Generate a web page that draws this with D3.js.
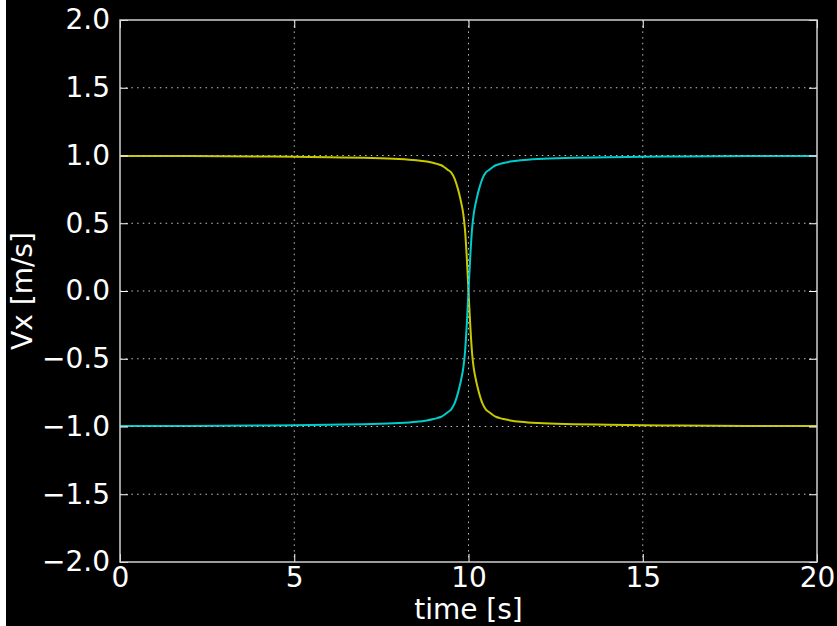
<!DOCTYPE html>
<html>
<head>
<meta charset="utf-8">
<script src="https://cdn.jsdelivr.net/npm/d3@7"></script>
<style>
  html, body { margin: 0; padding: 0; background: #000; }
  svg { display: block; }
  text { font-family: "DejaVu Sans", sans-serif; fill: #fff; }
</style>
</head>
<body>
<div id="chart"></div>
<script>
// time samples [s]
const times = [0, 2, 4, 5, 6, 7, 8, 8.5, 8.8, 9, 9.1, 9.2, 9.3, 9.4, 9.5, 9.6, 9.7, 9.75, 9.8, 9.85, 9.9, 9.95, 10,
  10.05, 10.1, 10.15, 10.2, 10.25, 10.3, 10.4, 10.5, 10.6, 10.7, 10.8, 10.9, 11, 11.2, 11.5, 12, 13, 14, 15, 16, 18, 20];

// Vx of body 1 (yellow) and body 2 (cyan)
const vxYellow = [0.997, 0.996, 0.993, 0.99, 0.987, 0.983, 0.975, 0.965, 0.955, 0.945, 0.938, 0.93, 0.915, 0.895, 0.875, 0.83, 0.75, 0.7, 0.64, 0.57, 0.45, 0.25, 0,
  -0.25, -0.45, -0.57, -0.64, -0.7, -0.75, -0.83, -0.875, -0.895, -0.915, -0.93, -0.938, -0.945, -0.955, -0.965, -0.975, -0.983, -0.987, -0.99, -0.993, -0.996, -0.997];
const vxCyan = [-0.997, -0.996, -0.993, -0.99, -0.987, -0.983, -0.975, -0.965, -0.955, -0.945, -0.938, -0.93, -0.915, -0.895, -0.875, -0.83, -0.75, -0.7, -0.64, -0.57, -0.45, -0.25, 0,
  0.25, 0.45, 0.57, 0.64, 0.7, 0.75, 0.83, 0.875, 0.895, 0.915, 0.93, 0.938, 0.945, 0.955, 0.965, 0.975, 0.983, 0.987, 0.99, 0.993, 0.996, 0.997];

const xTicks = [0, 5, 10, 15, 20];
const yTicks = [-2, -1.5, -1, -0.5, 0, 0.5, 1, 1.5, 2];

const width = 837, height = 626;
const margin = { left: 120, right: 20, top: 20, bottom: 64 };

const svg = d3.select("#chart").append("svg")
  .attr("width", width).attr("height", height);

svg.append("rect").attr("width", width).attr("height", height).attr("fill", "#000");
// thin white strip on the left edge of the screenshot
svg.append("rect").attr("x", 0).attr("y", 0).attr("width", 6).attr("height", height).attr("fill", "#fff");

const x = d3.scaleLinear().domain([0, 20]).range([margin.left, width - margin.right]);
const y = d3.scaleLinear().domain([-2, 2]).range([height - margin.bottom, margin.top]);

const line = d3.line().curve(d3.curveMonotoneX);

const series = [
  { values: vxYellow, color: "#c8c800" },
  { values: vxCyan, color: "#00cccc" }
];

const plot = svg.append("g");
series.forEach((s) => {
  plot.append("path")
    .attr("fill", "none")
    .attr("stroke", s.color)
    .attr("stroke-width", 2)
    .attr("d", line(times.map((t, i) => [x(t), y(s.values[i])])));
});

// dotted grid drawn over the curves
const grid = svg.append("g")
  .attr("stroke", "#c0c0c0")
  .attr("stroke-width", 1)
  .attr("stroke-dasharray", "1.5,4.2");
xTicks.slice(1, -1).forEach((t) => {
  grid.append("line").attr("x1", x(t)).attr("x2", x(t))
    .attr("y1", y(2)).attr("y2", y(-2));
});
yTicks.slice(1, -1).forEach((v) => {
  grid.append("line").attr("y1", y(v)).attr("y2", y(v))
    .attr("x1", x(0)).attr("x2", x(20));
});

// axes with inward ticks, matplotlib classic style
const tickLen = 8;
const xAxis = d3.axisBottom(x).tickValues(xTicks).tickSizeInner(-tickLen).tickSizeOuter(0)
  .tickPadding(5).tickFormat(d3.format("d"));
const yAxis = d3.axisLeft(y).tickValues(yTicks).tickSizeInner(-tickLen).tickSizeOuter(0)
  .tickPadding(10).tickFormat((d) => d3.format(".1f")(d).replace("-", "\u2212"));

svg.append("g").attr("transform", `translate(0,${y(-2)})`).call(xAxis);
svg.append("g").attr("transform", `translate(${x(0)},0)`).call(yAxis);
svg.append("g").attr("transform", `translate(0,${y(2)})`)
  .call(d3.axisTop(x).tickValues(xTicks).tickSizeInner(-tickLen).tickSizeOuter(0).tickFormat(""));
svg.append("g").attr("transform", `translate(${x(20)},0)`)
  .call(d3.axisRight(y).tickValues(yTicks).tickSizeInner(-tickLen).tickSizeOuter(0).tickFormat(""));

svg.selectAll(".domain").remove();
svg.selectAll(".tick line").attr("stroke", "#fff").attr("stroke-width", 1);
svg.selectAll(".tick text").attr("fill", "#fff").style("font-size", "28px")
  .style("font-family", "'DejaVu Sans', sans-serif");

// axes frame
svg.append("rect")
  .attr("x", x(0)).attr("y", y(2))
  .attr("width", x(20) - x(0)).attr("height", y(-2) - y(2))
  .attr("fill", "none").attr("stroke", "#d0d0d0").attr("stroke-width", 1.5);

svg.append("text")
  .attr("x", (x(0) + x(20)) / 2).attr("y", 619)
  .attr("text-anchor", "middle").style("font-size", "28px")
  .text("time [s]");

svg.append("text")
  .attr("transform", `translate(32,${(y(2) + y(-2)) / 2}) rotate(-90)`)
  .attr("text-anchor", "middle").style("font-size", "28px")
  .text("Vx [m/s]");
</script>
</body>
</html>
